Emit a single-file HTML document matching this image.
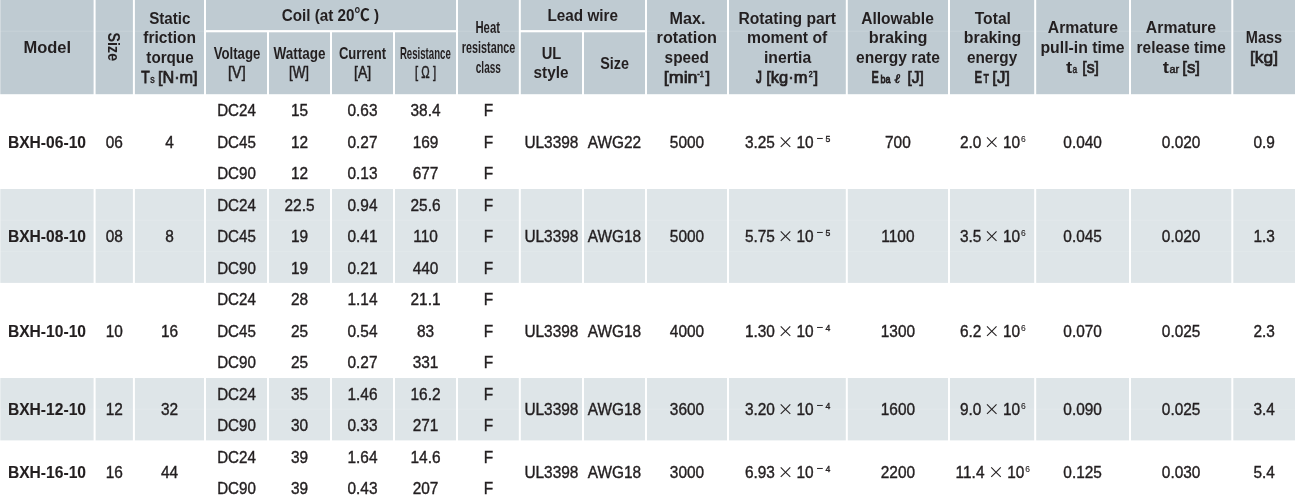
<!DOCTYPE html>
<html lang="en"><head><meta charset="utf-8"><title>BXH specifications</title>
<style>html,body{margin:0;padding:0;background:#fff}body{width:1295px;height:501px;overflow:hidden}svg{display:block}text{font-family:"Liberation Sans",sans-serif;fill:#231f20;text-anchor:middle;white-space:pre}.b{font-weight:bold}.m{stroke:#231f20;stroke-width:.7px}.r{stroke:#231f20;stroke-width:.5px}</style></head><body>
<svg width="1295" height="501" viewBox="0 0 1295 501">
<g fill="#bfcbd2">
<rect x="0.30" y="0.00" width="93.30" height="94.20"/>
<rect x="95.60" y="0.00" width="37.30" height="94.20"/>
<rect x="134.90" y="0.00" width="69.10" height="94.20"/>
<rect x="458.00" y="0.00" width="60.80" height="94.20"/>
<rect x="647.00" y="0.00" width="80.00" height="94.20"/>
<rect x="729.00" y="0.00" width="116.80" height="94.20"/>
<rect x="847.80" y="0.00" width="100.20" height="94.20"/>
<rect x="950.00" y="0.00" width="84.20" height="94.20"/>
<rect x="1036.20" y="0.00" width="92.80" height="94.20"/>
<rect x="1131.00" y="0.00" width="100.30" height="94.20"/>
<rect x="1233.30" y="0.00" width="61.70" height="94.20"/>
<rect x="206.00" y="0.00" width="250.00" height="30.10"/>
<rect x="206.00" y="32.30" width="61.00" height="61.90"/>
<rect x="269.00" y="32.30" width="61.00" height="61.90"/>
<rect x="332.00" y="32.30" width="61.00" height="61.90"/>
<rect x="395.00" y="32.30" width="61.00" height="61.90"/>
<rect x="520.80" y="0.00" width="124.20" height="30.10"/>
<rect x="520.80" y="32.30" width="61.20" height="61.90"/>
<rect x="584.00" y="32.30" width="61.00" height="61.90"/>
</g>
<g fill="#dee5e8">
<rect x="0.30" y="189.00" width="93.30" height="93.90"/>
<rect x="95.60" y="189.00" width="37.30" height="93.90"/>
<rect x="134.90" y="189.00" width="69.10" height="93.90"/>
<rect x="206.00" y="189.00" width="61.00" height="93.90"/>
<rect x="269.00" y="189.00" width="61.00" height="93.90"/>
<rect x="332.00" y="189.00" width="61.00" height="93.90"/>
<rect x="395.00" y="189.00" width="61.00" height="93.90"/>
<rect x="458.00" y="189.00" width="60.80" height="93.90"/>
<rect x="520.80" y="189.00" width="61.20" height="93.90"/>
<rect x="584.00" y="189.00" width="61.00" height="93.90"/>
<rect x="647.00" y="189.00" width="80.00" height="93.90"/>
<rect x="729.00" y="189.00" width="116.80" height="93.90"/>
<rect x="847.80" y="189.00" width="100.20" height="93.90"/>
<rect x="950.00" y="189.00" width="84.20" height="93.90"/>
<rect x="1036.20" y="189.00" width="92.80" height="93.90"/>
<rect x="1131.00" y="189.00" width="100.30" height="93.90"/>
<rect x="1233.30" y="189.00" width="61.70" height="93.90"/>
<rect x="0.30" y="378.00" width="93.30" height="62.40"/>
<rect x="95.60" y="378.00" width="37.30" height="62.40"/>
<rect x="134.90" y="378.00" width="69.10" height="62.40"/>
<rect x="206.00" y="378.00" width="61.00" height="62.40"/>
<rect x="269.00" y="378.00" width="61.00" height="62.40"/>
<rect x="332.00" y="378.00" width="61.00" height="62.40"/>
<rect x="395.00" y="378.00" width="61.00" height="62.40"/>
<rect x="458.00" y="378.00" width="60.80" height="62.40"/>
<rect x="520.80" y="378.00" width="61.20" height="62.40"/>
<rect x="584.00" y="378.00" width="61.00" height="62.40"/>
<rect x="647.00" y="378.00" width="80.00" height="62.40"/>
<rect x="729.00" y="378.00" width="116.80" height="62.40"/>
<rect x="847.80" y="378.00" width="100.20" height="62.40"/>
<rect x="950.00" y="378.00" width="84.20" height="62.40"/>
<rect x="1036.20" y="378.00" width="92.80" height="62.40"/>
<rect x="1131.00" y="378.00" width="100.30" height="62.40"/>
<rect x="1233.30" y="378.00" width="61.70" height="62.40"/>
</g>
<g fill="#fff" opacity=".13">
<rect x="0.30" y="30.70" width="93.30" height="1.00"/>
<rect x="95.60" y="30.70" width="37.30" height="1.00"/>
<rect x="134.90" y="30.70" width="69.10" height="1.00"/>
<rect x="458.00" y="30.70" width="60.80" height="1.00"/>
<rect x="647.00" y="30.70" width="80.00" height="1.00"/>
<rect x="729.00" y="30.70" width="116.80" height="1.00"/>
<rect x="847.80" y="30.70" width="100.20" height="1.00"/>
<rect x="950.00" y="30.70" width="84.20" height="1.00"/>
<rect x="1036.20" y="30.70" width="92.80" height="1.00"/>
<rect x="1131.00" y="30.70" width="100.30" height="1.00"/>
<rect x="1233.30" y="30.70" width="61.70" height="1.00"/>
<rect x="0.30" y="219.80" width="93.30" height="0.80"/>
<rect x="95.60" y="219.80" width="37.30" height="0.80"/>
<rect x="134.90" y="219.80" width="69.10" height="0.80"/>
<rect x="206.00" y="219.80" width="61.00" height="0.80"/>
<rect x="269.00" y="219.80" width="61.00" height="0.80"/>
<rect x="332.00" y="219.80" width="61.00" height="0.80"/>
<rect x="395.00" y="219.80" width="61.00" height="0.80"/>
<rect x="458.00" y="219.80" width="60.80" height="0.80"/>
<rect x="520.80" y="219.80" width="61.20" height="0.80"/>
<rect x="584.00" y="219.80" width="61.00" height="0.80"/>
<rect x="647.00" y="219.80" width="80.00" height="0.80"/>
<rect x="729.00" y="219.80" width="116.80" height="0.80"/>
<rect x="847.80" y="219.80" width="100.20" height="0.80"/>
<rect x="950.00" y="219.80" width="84.20" height="0.80"/>
<rect x="1036.20" y="219.80" width="92.80" height="0.80"/>
<rect x="1131.00" y="219.80" width="100.30" height="0.80"/>
<rect x="1233.30" y="219.80" width="61.70" height="0.80"/>
<rect x="0.30" y="251.30" width="93.30" height="0.80"/>
<rect x="95.60" y="251.30" width="37.30" height="0.80"/>
<rect x="134.90" y="251.30" width="69.10" height="0.80"/>
<rect x="206.00" y="251.30" width="61.00" height="0.80"/>
<rect x="269.00" y="251.30" width="61.00" height="0.80"/>
<rect x="332.00" y="251.30" width="61.00" height="0.80"/>
<rect x="395.00" y="251.30" width="61.00" height="0.80"/>
<rect x="458.00" y="251.30" width="60.80" height="0.80"/>
<rect x="520.80" y="251.30" width="61.20" height="0.80"/>
<rect x="584.00" y="251.30" width="61.00" height="0.80"/>
<rect x="647.00" y="251.30" width="80.00" height="0.80"/>
<rect x="729.00" y="251.30" width="116.80" height="0.80"/>
<rect x="847.80" y="251.30" width="100.20" height="0.80"/>
<rect x="950.00" y="251.30" width="84.20" height="0.80"/>
<rect x="1036.20" y="251.30" width="92.80" height="0.80"/>
<rect x="1131.00" y="251.30" width="100.30" height="0.80"/>
<rect x="1233.30" y="251.30" width="61.70" height="0.80"/>
<rect x="0.30" y="408.80" width="93.30" height="0.80"/>
<rect x="95.60" y="408.80" width="37.30" height="0.80"/>
<rect x="134.90" y="408.80" width="69.10" height="0.80"/>
<rect x="206.00" y="408.80" width="61.00" height="0.80"/>
<rect x="269.00" y="408.80" width="61.00" height="0.80"/>
<rect x="332.00" y="408.80" width="61.00" height="0.80"/>
<rect x="395.00" y="408.80" width="61.00" height="0.80"/>
<rect x="458.00" y="408.80" width="60.80" height="0.80"/>
<rect x="520.80" y="408.80" width="61.20" height="0.80"/>
<rect x="584.00" y="408.80" width="61.00" height="0.80"/>
<rect x="647.00" y="408.80" width="80.00" height="0.80"/>
<rect x="729.00" y="408.80" width="116.80" height="0.80"/>
<rect x="847.80" y="408.80" width="100.20" height="0.80"/>
<rect x="950.00" y="408.80" width="84.20" height="0.80"/>
<rect x="1036.20" y="408.80" width="92.80" height="0.80"/>
<rect x="1131.00" y="408.80" width="100.30" height="0.80"/>
<rect x="1233.30" y="408.80" width="61.70" height="0.80"/>
</g>
<g id="hdr">
<text id="t_model" class="b" font-size="16.60" transform="translate(47.24 53.00) scale(0.9932 1)">Model</text>
<text id="t_static" class="b" font-size="16.60" transform="translate(169.82 24.00) scale(0.9165 1)">Static</text>
<text id="t_friction" class="b" font-size="16.60" transform="translate(169.63 43.00) scale(0.9380 1)">friction</text>
<text id="t_torque" class="b" font-size="16.60" transform="translate(169.96 63.00) scale(0.9172 1)">torque</text>
<text id="t_ts_T" class="m" font-size="16.60" style="stroke:#231f20;stroke-width:0.9px" transform="translate(145.35 83.00) scale(0.8296 1)">T</text>
<text id="t_ts_s" class="m" font-size="10.80" style="stroke:#231f20;stroke-width:0.4px" transform="translate(152.51 83.00) scale(0.8299 1)">s</text>
<text id="t_ts_u" class="m" font-size="16.60" transform="translate(177.76 83.00) scale(0.9788 1)">[N·m]</text>
<text id="t_coil" class="b" font-size="16.60" transform="translate(330.44 21.00) scale(0.9198 1)">Coil (at 20<tspan style="font-family:'Noto Sans CJK JP',sans-serif">℃</tspan> )</text>
<text id="t_voltage" class="b" font-size="16.00" transform="translate(236.99 59.00) scale(0.8261 1)">Voltage</text>
<text id="t_v" class="r" font-size="16.00" transform="translate(236.86 78.00) scale(0.8947 1)">[V]</text>
<text id="t_wattage" class="b" font-size="16.00" transform="translate(299.53 59.00) scale(0.8449 1)">Wattage</text>
<text id="t_w" class="r" font-size="16.00" transform="translate(299.05 78.00) scale(0.8360 1)">[W]</text>
<text id="t_current" class="b" font-size="16.00" transform="translate(362.50 59.00) scale(0.8165 1)">Current</text>
<text id="t_a" class="r" font-size="16.00" transform="translate(362.55 78.00) scale(0.8735 1)">[A]</text>
<text id="t_resistance" class="b" font-size="16.00" transform="translate(425.31 59.00) scale(0.6026 1)">Resistance</text>
<text id="t_ohm" class="r" font-size="16.00" transform="translate(425.58 78.00) scale(0.7040 1)">[ Ω ]</text>
<text id="t_heat" class="b" font-size="16.00" transform="translate(487.70 33.00) scale(0.7079 1)">Heat</text>
<text id="t_resistance2" class="b" font-size="16.00" transform="translate(488.53 53.00) scale(0.6750 1)">resistance</text>
<text id="t_class" class="b" font-size="16.00" transform="translate(488.33 73.00) scale(0.6277 1)">class</text>
<text id="t_lead" class="b" font-size="16.60" transform="translate(582.76 21.00) scale(0.9210 1)">Lead wire</text>
<text id="t_ul" class="b" font-size="16.60" transform="translate(551.56 59.00) scale(0.8860 1)">UL</text>
<text id="t_style" class="b" font-size="16.60" transform="translate(550.99 78.00) scale(0.9234 1)">style</text>
<text id="t_size2" class="b" font-size="16.60" transform="translate(614.49 69.00) scale(0.8659 1)">Size</text>
<text id="t_max" class="b" font-size="16.60" transform="translate(687.56 24.00) scale(0.9743 1)">Max.</text>
<text id="t_rotation" class="b" font-size="16.60" transform="translate(686.83 43.00) scale(0.9790 1)">rotation</text>
<text id="t_speed" class="b" font-size="16.60" transform="translate(686.80 63.00) scale(0.9256 1)">speed</text>
<text id="t_min_a" class="m" font-size="16.60" transform="translate(680.67 83.00) scale(1.0737 1)">[min</text>
<text id="t_min_s" class="m" font-size="9.50" style="stroke:#231f20;stroke-width:0.6px" transform="translate(700.58 77.00) scale(0.7830 1)">-1</text>
<text id="t_min_b" class="m" font-size="16.60" transform="translate(707.75 83.00) scale(1.0052 1)">]</text>
<text id="t_rotpart" class="b" font-size="16.60" transform="translate(787.25 24.00) scale(0.9460 1)">Rotating part</text>
<text id="t_moment" class="b" font-size="16.60" transform="translate(787.12 43.00) scale(0.9471 1)">moment of</text>
<text id="t_inertia" class="b" font-size="16.60" transform="translate(787.51 63.00) scale(0.9494 1)">inertia</text>
<text id="t_j_J" class="m" font-size="16.60" style="stroke:#231f20;stroke-width:1.1px" transform="translate(758.87 83.00) scale(0.6994 1)">J</text>
<text id="t_j_u" class="m" font-size="16.60" transform="translate(786.80 83.00) scale(0.9949 1)">[kg·m</text>
<text id="t_j_s" class="m" font-size="9.50" style="stroke:#231f20;stroke-width:0.6px" transform="translate(810.71 77.00) scale(0.7337 1)">2</text>
<text id="t_j_b" class="m" font-size="16.60" transform="translate(815.75 83.00) scale(1.0052 1)">]</text>
<text id="t_allow" class="b" font-size="16.60" transform="translate(897.52 24.00) scale(0.9387 1)">Allowable</text>
<text id="t_braking1" class="b" font-size="16.60" transform="translate(898.16 43.00) scale(0.9797 1)">braking</text>
<text id="t_energyrate" class="b" font-size="16.60" transform="translate(897.93 63.00) scale(0.9385 1)">energy rate</text>
<text id="t_eba_E" class="b" font-size="16.60" style="stroke:#231f20;stroke-width:0.6px" transform="translate(875.05 83.00) scale(0.6576 1)">E</text>
<text id="t_eba_ba" class="m" font-size="11.80" style="stroke:#231f20;stroke-width:0.9px" transform="translate(885.44 83.00) scale(0.7602 1)">ba</text>
<text id="t_eba_l" class="r" font-size="13.00" transform="translate(897.32 83.00) scale(1.1333 1)"><tspan style="font-family:'DejaVu Serif',serif;font-style:italic">ℓ</tspan></text>
<text id="t_eba_u" class="m" font-size="16.60" transform="translate(915.64 83.00) scale(0.9395 1)">[J]</text>
<text id="t_total" class="b" font-size="16.60" transform="translate(992.83 24.00) scale(0.9439 1)">Total</text>
<text id="t_braking2" class="b" font-size="16.60" transform="translate(992.43 43.00) scale(0.9564 1)">braking</text>
<text id="t_energy" class="b" font-size="16.60" transform="translate(992.08 63.00) scale(0.9227 1)">energy</text>
<text id="t_et_E" class="b" font-size="16.60" style="stroke:#231f20;stroke-width:0.6px" transform="translate(978.31 83.00) scale(0.6843 1)">E</text>
<text id="t_et_T" class="b" font-size="12.20" style="stroke:#231f20;stroke-width:0.4px" transform="translate(986.27 83.00) scale(0.7269 1)">T</text>
<text id="t_et_u" class="m" font-size="16.60" transform="translate(1001.14 83.00) scale(1.0190 1)">[J]</text>
<text id="t_arm1" class="b" font-size="16.60" transform="translate(1082.85 33.00) scale(0.9517 1)">Armature</text>
<text id="t_pullin" class="b" font-size="16.60" transform="translate(1082.54 53.00) scale(0.9521 1)">pull-in time</text>
<text id="t_ta_t" class="b" font-size="16.60" transform="translate(1069.01 73.00) scale(1.1244 1)">t</text>
<text id="t_ta_a" class="m" font-size="10.50" style="stroke:#231f20;stroke-width:0.5px" transform="translate(1074.72 73.00) scale(0.7990 1)">a</text>
<text id="t_ta_u" class="m" font-size="16.60" transform="translate(1090.60 73.00) scale(0.9550 1)">[s]</text>
<text id="t_arm2" class="b" font-size="16.60" transform="translate(1180.92 33.00) scale(0.9503 1)">Armature</text>
<text id="t_release" class="b" font-size="16.60" transform="translate(1181.18 53.00) scale(0.9293 1)">release time</text>
<text id="t_tar_t" class="b" font-size="16.60" transform="translate(1165.85 73.00) scale(1.1241 1)">t</text>
<text id="t_tar_a" class="m" font-size="10.50" style="stroke:#231f20;stroke-width:0.5px" transform="translate(1174.30 73.00) scale(1.0368 1)">ar</text>
<text id="t_tar_u" class="m" font-size="16.60" transform="translate(1191.12 73.00) scale(1.0189 1)">[s]</text>
<text id="t_mass" class="b" font-size="16.60" transform="translate(1264.01 43.00) scale(0.8765 1)">Mass</text>
<text id="t_kg" class="m" font-size="16.60" transform="translate(1264.00 63.00) scale(1.0483 1)">[kg]</text>
<text id="t_size1" class="b" font-size="16.60" transform="translate(108.00 46.80) rotate(90) scale(0.8600 1)">Size</text>
</g>
<g id="data" font-size="17.00" stroke="#231f20" stroke-width=".4">
<text class="b" stroke-width=".1" font-size="15.8" transform="translate(46.95 148.00) scale(0.989 1)">BXH-06-10</text>
<text transform="translate(114.25 148.00) scale(0.908 1)">06</text>
<text transform="translate(169.45 148.00) scale(0.908 1)">4</text>
<text transform="translate(236.50 116.00) scale(0.892 1)">DC24</text>
<text transform="translate(299.50 116.00) scale(0.908 1)">15</text>
<text transform="translate(362.50 116.00) scale(0.908 1)">0.63</text>
<text transform="translate(425.50 116.00) scale(0.908 1)">38.4</text>
<text transform="translate(488.40 116.00) scale(0.908 1)">F</text>
<text transform="translate(236.50 148.00) scale(0.892 1)">DC45</text>
<text transform="translate(299.50 148.00) scale(0.908 1)">12</text>
<text transform="translate(362.50 148.00) scale(0.908 1)">0.27</text>
<text transform="translate(425.50 148.00) scale(0.908 1)">169</text>
<text transform="translate(488.40 148.00) scale(0.908 1)">F</text>
<text transform="translate(236.50 179.00) scale(0.892 1)">DC90</text>
<text transform="translate(299.50 179.00) scale(0.908 1)">12</text>
<text transform="translate(362.50 179.00) scale(0.908 1)">0.13</text>
<text transform="translate(425.50 179.00) scale(0.908 1)">677</text>
<text transform="translate(488.40 179.00) scale(0.908 1)">F</text>
<text transform="translate(551.40 148.00) scale(0.908 1)">UL3398</text>
<text transform="translate(614.50 148.00) scale(0.908 1)">AWG22</text>
<text transform="translate(687.00 148.00) scale(0.908 1)">5000</text>
<text style="text-anchor:start" transform="translate(744.90 148) scale(0.908 1)">3.25</text>
<text style="font-family:'Noto Sans CJK JP',sans-serif" font-size="16" stroke="none" x="785.39" y="148">×</text>
<text style="text-anchor:start" transform="translate(796.54 148) scale(0.908 1)">10</text>
<text font-size="14" stroke="none" transform="translate(819.65 143) scale(.85 1)">−</text>
<text font-size="9.6" transform="translate(827.80 142) scale(0.908 1)">5</text>
<text transform="translate(897.90 148.00) scale(0.908 1)">700</text>
<text style="text-anchor:start" transform="translate(959.89 148) scale(0.908 1)">2.0</text>
<text style="font-family:'Noto Sans CJK JP',sans-serif" font-size="16" stroke="none" x="991.80" y="148">×</text>
<text style="text-anchor:start" transform="translate(1002.95 148) scale(0.908 1)">10</text>
<text font-size="9.4" stroke-width=".1" transform="translate(1023.41 142) scale(0.908 1)">6</text>
<text transform="translate(1082.60 148.00) scale(0.908 1)">0.040</text>
<text transform="translate(1181.15 148.00) scale(0.908 1)">0.020</text>
<text transform="translate(1264.15 148.00) scale(0.908 1)">0.9</text>
<text class="b" stroke-width=".1" font-size="15.8" transform="translate(46.95 242.00) scale(0.989 1)">BXH-08-10</text>
<text transform="translate(114.25 242.00) scale(0.908 1)">08</text>
<text transform="translate(169.45 242.00) scale(0.908 1)">8</text>
<text transform="translate(236.50 211.00) scale(0.892 1)">DC24</text>
<text transform="translate(299.50 211.00) scale(0.908 1)">22.5</text>
<text transform="translate(362.50 211.00) scale(0.908 1)">0.94</text>
<text transform="translate(425.50 211.00) scale(0.908 1)">25.6</text>
<text transform="translate(488.40 211.00) scale(0.908 1)">F</text>
<text transform="translate(236.50 242.00) scale(0.892 1)">DC45</text>
<text transform="translate(299.50 242.00) scale(0.908 1)">19</text>
<text transform="translate(362.50 242.00) scale(0.908 1)">0.41</text>
<text transform="translate(425.50 242.00) scale(0.908 1)">110</text>
<text transform="translate(488.40 242.00) scale(0.908 1)">F</text>
<text transform="translate(236.50 274.00) scale(0.892 1)">DC90</text>
<text transform="translate(299.50 274.00) scale(0.908 1)">19</text>
<text transform="translate(362.50 274.00) scale(0.908 1)">0.21</text>
<text transform="translate(425.50 274.00) scale(0.908 1)">440</text>
<text transform="translate(488.40 274.00) scale(0.908 1)">F</text>
<text transform="translate(551.40 242.00) scale(0.908 1)">UL3398</text>
<text transform="translate(614.50 242.00) scale(0.908 1)">AWG18</text>
<text transform="translate(687.00 242.00) scale(0.908 1)">5000</text>
<text style="text-anchor:start" transform="translate(744.90 242) scale(0.908 1)">5.75</text>
<text style="font-family:'Noto Sans CJK JP',sans-serif" font-size="16" stroke="none" x="785.39" y="242">×</text>
<text style="text-anchor:start" transform="translate(796.54 242) scale(0.908 1)">10</text>
<text font-size="14" stroke="none" transform="translate(819.65 237) scale(.85 1)">−</text>
<text font-size="9.6" transform="translate(827.80 236) scale(0.908 1)">5</text>
<text transform="translate(897.90 242.00) scale(0.908 1)">1100</text>
<text style="text-anchor:start" transform="translate(959.89 242) scale(0.908 1)">3.5</text>
<text style="font-family:'Noto Sans CJK JP',sans-serif" font-size="16" stroke="none" x="991.80" y="242">×</text>
<text style="text-anchor:start" transform="translate(1002.95 242) scale(0.908 1)">10</text>
<text font-size="9.4" stroke-width=".1" transform="translate(1023.41 236) scale(0.908 1)">6</text>
<text transform="translate(1082.60 242.00) scale(0.908 1)">0.045</text>
<text transform="translate(1181.15 242.00) scale(0.908 1)">0.020</text>
<text transform="translate(1264.15 242.00) scale(0.908 1)">1.3</text>
<text class="b" stroke-width=".1" font-size="15.8" transform="translate(46.95 337.00) scale(0.989 1)">BXH-10-10</text>
<text transform="translate(114.25 337.00) scale(0.908 1)">10</text>
<text transform="translate(169.45 337.00) scale(0.908 1)">16</text>
<text transform="translate(236.50 305.00) scale(0.892 1)">DC24</text>
<text transform="translate(299.50 305.00) scale(0.908 1)">28</text>
<text transform="translate(362.50 305.00) scale(0.908 1)">1.14</text>
<text transform="translate(425.50 305.00) scale(0.908 1)">21.1</text>
<text transform="translate(488.40 305.00) scale(0.908 1)">F</text>
<text transform="translate(236.50 337.00) scale(0.892 1)">DC45</text>
<text transform="translate(299.50 337.00) scale(0.908 1)">25</text>
<text transform="translate(362.50 337.00) scale(0.908 1)">0.54</text>
<text transform="translate(425.50 337.00) scale(0.908 1)">83</text>
<text transform="translate(488.40 337.00) scale(0.908 1)">F</text>
<text transform="translate(236.50 368.00) scale(0.892 1)">DC90</text>
<text transform="translate(299.50 368.00) scale(0.908 1)">25</text>
<text transform="translate(362.50 368.00) scale(0.908 1)">0.27</text>
<text transform="translate(425.50 368.00) scale(0.908 1)">331</text>
<text transform="translate(488.40 368.00) scale(0.908 1)">F</text>
<text transform="translate(551.40 337.00) scale(0.908 1)">UL3398</text>
<text transform="translate(614.50 337.00) scale(0.908 1)">AWG18</text>
<text transform="translate(687.00 337.00) scale(0.908 1)">4000</text>
<text style="text-anchor:start" transform="translate(744.90 337) scale(0.908 1)">1.30</text>
<text style="font-family:'Noto Sans CJK JP',sans-serif" font-size="16" stroke="none" x="785.39" y="337">×</text>
<text style="text-anchor:start" transform="translate(796.54 337) scale(0.908 1)">10</text>
<text font-size="14" stroke="none" transform="translate(819.65 332) scale(.85 1)">−</text>
<text font-size="9.6" transform="translate(827.80 331) scale(0.908 1)">4</text>
<text transform="translate(897.90 337.00) scale(0.908 1)">1300</text>
<text style="text-anchor:start" transform="translate(959.89 337) scale(0.908 1)">6.2</text>
<text style="font-family:'Noto Sans CJK JP',sans-serif" font-size="16" stroke="none" x="991.80" y="337">×</text>
<text style="text-anchor:start" transform="translate(1002.95 337) scale(0.908 1)">10</text>
<text font-size="9.4" stroke-width=".1" transform="translate(1023.41 331) scale(0.908 1)">6</text>
<text transform="translate(1082.60 337.00) scale(0.908 1)">0.070</text>
<text transform="translate(1181.15 337.00) scale(0.908 1)">0.025</text>
<text transform="translate(1264.15 337.00) scale(0.908 1)">2.3</text>
<text class="b" stroke-width=".1" font-size="15.8" transform="translate(46.95 415.00) scale(0.989 1)">BXH-12-10</text>
<text transform="translate(114.25 415.00) scale(0.908 1)">12</text>
<text transform="translate(169.45 415.00) scale(0.908 1)">32</text>
<text transform="translate(236.50 400.00) scale(0.892 1)">DC24</text>
<text transform="translate(299.50 400.00) scale(0.908 1)">35</text>
<text transform="translate(362.50 400.00) scale(0.908 1)">1.46</text>
<text transform="translate(425.50 400.00) scale(0.908 1)">16.2</text>
<text transform="translate(488.40 400.00) scale(0.908 1)">F</text>
<text transform="translate(236.50 431.00) scale(0.892 1)">DC90</text>
<text transform="translate(299.50 431.00) scale(0.908 1)">30</text>
<text transform="translate(362.50 431.00) scale(0.908 1)">0.33</text>
<text transform="translate(425.50 431.00) scale(0.908 1)">271</text>
<text transform="translate(488.40 431.00) scale(0.908 1)">F</text>
<text transform="translate(551.40 415.00) scale(0.908 1)">UL3398</text>
<text transform="translate(614.50 415.00) scale(0.908 1)">AWG18</text>
<text transform="translate(687.00 415.00) scale(0.908 1)">3600</text>
<text style="text-anchor:start" transform="translate(744.90 415) scale(0.908 1)">3.20</text>
<text style="font-family:'Noto Sans CJK JP',sans-serif" font-size="16" stroke="none" x="785.39" y="415">×</text>
<text style="text-anchor:start" transform="translate(796.54 415) scale(0.908 1)">10</text>
<text font-size="14" stroke="none" transform="translate(819.65 410) scale(.85 1)">−</text>
<text font-size="9.6" transform="translate(827.80 409) scale(0.908 1)">4</text>
<text transform="translate(897.90 415.00) scale(0.908 1)">1600</text>
<text style="text-anchor:start" transform="translate(959.89 415) scale(0.908 1)">9.0</text>
<text style="font-family:'Noto Sans CJK JP',sans-serif" font-size="16" stroke="none" x="991.80" y="415">×</text>
<text style="text-anchor:start" transform="translate(1002.95 415) scale(0.908 1)">10</text>
<text font-size="9.4" stroke-width=".1" transform="translate(1023.41 409) scale(0.908 1)">6</text>
<text transform="translate(1082.60 415.00) scale(0.908 1)">0.090</text>
<text transform="translate(1181.15 415.00) scale(0.908 1)">0.025</text>
<text transform="translate(1264.15 415.00) scale(0.908 1)">3.4</text>
<text class="b" stroke-width=".1" font-size="15.8" transform="translate(46.95 478.00) scale(0.989 1)">BXH-16-10</text>
<text transform="translate(114.25 478.00) scale(0.908 1)">16</text>
<text transform="translate(169.45 478.00) scale(0.908 1)">44</text>
<text transform="translate(236.50 463.00) scale(0.892 1)">DC24</text>
<text transform="translate(299.50 463.00) scale(0.908 1)">39</text>
<text transform="translate(362.50 463.00) scale(0.908 1)">1.64</text>
<text transform="translate(425.50 463.00) scale(0.908 1)">14.6</text>
<text transform="translate(488.40 463.00) scale(0.908 1)">F</text>
<text transform="translate(236.50 494.00) scale(0.892 1)">DC90</text>
<text transform="translate(299.50 494.00) scale(0.908 1)">39</text>
<text transform="translate(362.50 494.00) scale(0.908 1)">0.43</text>
<text transform="translate(425.50 494.00) scale(0.908 1)">207</text>
<text transform="translate(488.40 494.00) scale(0.908 1)">F</text>
<text transform="translate(551.40 478.00) scale(0.908 1)">UL3398</text>
<text transform="translate(614.50 478.00) scale(0.908 1)">AWG18</text>
<text transform="translate(687.00 478.00) scale(0.908 1)">3000</text>
<text style="text-anchor:start" transform="translate(744.90 478) scale(0.908 1)">6.93</text>
<text style="font-family:'Noto Sans CJK JP',sans-serif" font-size="16" stroke="none" x="785.39" y="478">×</text>
<text style="text-anchor:start" transform="translate(796.54 478) scale(0.908 1)">10</text>
<text font-size="14" stroke="none" transform="translate(819.65 473) scale(.85 1)">−</text>
<text font-size="9.6" transform="translate(827.80 472) scale(0.908 1)">4</text>
<text transform="translate(897.90 478.00) scale(0.908 1)">2200</text>
<text style="text-anchor:start" transform="translate(955.60 478) scale(0.908 1)">11.4</text>
<text style="font-family:'Noto Sans CJK JP',sans-serif" font-size="16" stroke="none" x="996.09" y="478">×</text>
<text style="text-anchor:start" transform="translate(1007.24 478) scale(0.908 1)">10</text>
<text font-size="9.4" stroke-width=".1" transform="translate(1027.70 472) scale(0.908 1)">6</text>
<text transform="translate(1082.60 478.00) scale(0.908 1)">0.125</text>
<text transform="translate(1181.15 478.00) scale(0.908 1)">0.030</text>
<text transform="translate(1264.15 478.00) scale(0.908 1)">5.4</text>
</g></svg></body></html>
